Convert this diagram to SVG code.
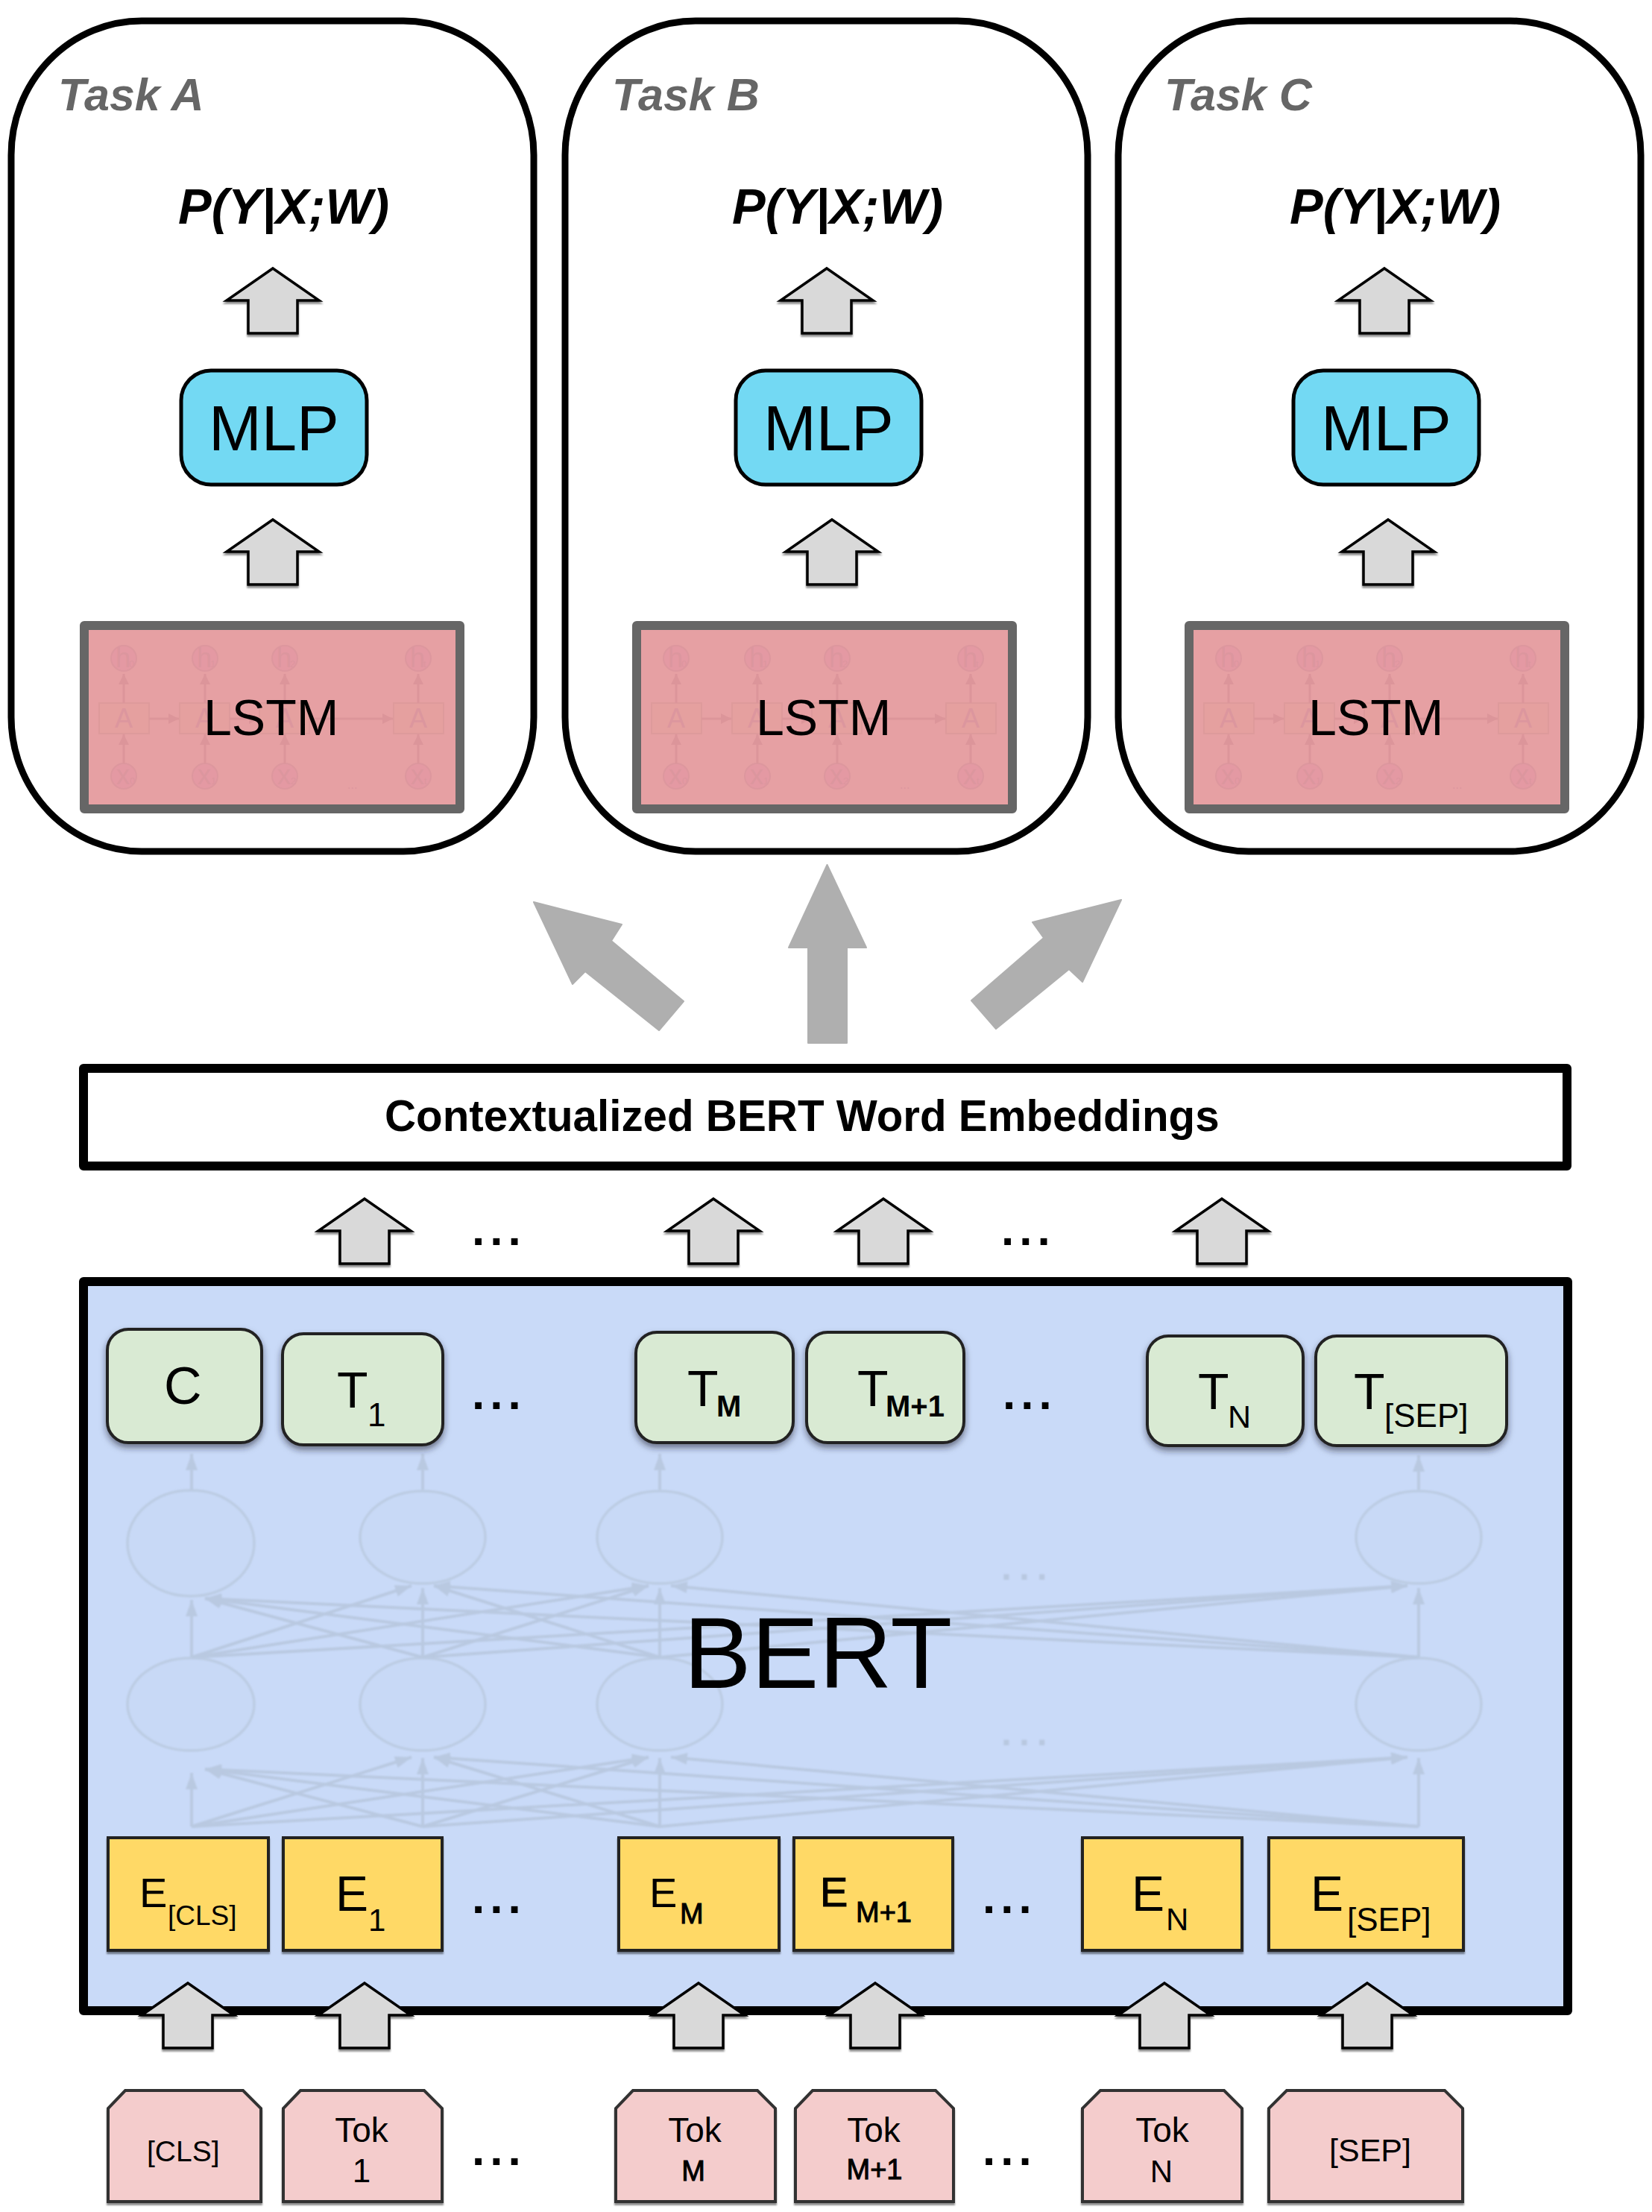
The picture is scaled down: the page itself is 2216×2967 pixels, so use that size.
<svg xmlns="http://www.w3.org/2000/svg" width="2216" height="2967" viewBox="0 0 2216 2967">
<style>
text{font-family:"Liberation Sans",Arial,sans-serif;fill:#000}
.frame{fill:#fff;stroke:#000;stroke-width:9}
.task{font-size:61px;font-weight:bold;font-style:italic;fill:#666}
.prob{font-size:67px;font-weight:bold;font-style:italic}
.mlp{fill:#73d9f3;stroke:#000;stroke-width:5}
.mlpt{font-size:85px}
.lstm{fill:#e6a0a3;stroke:#666;stroke-width:12;stroke-linejoin:round}
.lstmt{font-size:68px}
.up{fill:#d9d9d9;stroke:#000;stroke-width:3.5;filter:url(#s1)}
.big{fill:#afafaf;stroke:#afafaf;stroke-width:2;stroke-linejoin:round}
.thick{stroke:#000;stroke-width:12;stroke-linejoin:round}
.green{fill:#d9ead3;stroke:#222;stroke-width:4;filter:url(#s2)}
.yellow{fill:#ffd966;stroke:#222;stroke-width:4;filter:url(#s1)}
.pink{fill:#f4cccc;stroke:#333;stroke-width:4;filter:url(#s1)}
.dots{font-size:62px;font-weight:bold;letter-spacing:7px}
.fdots{font-size:50px;font-weight:bold;letter-spacing:10px;fill:#b8c8e0}
.net{filter:url(#b1)}
.fan{stroke:#b9c9e1;stroke-width:4;fill:none;marker-end:url(#nh)}
.ell{fill:#c8d9f6;stroke:#bccce3;stroke-width:3.5}
.lc{fill:#e499a3;stroke:#dd979e;stroke-width:2}
.lb{fill:#e5a09f;stroke:#de9a9b;stroke-width:2}
.la{stroke:#dc959a;stroke-width:3;fill:none;marker-end:url(#lh)}
.ll{font-size:36px;fill:#dc969e}
.ls{font-size:13px;fill:#dc969e}
.ld{font-size:16px;fill:#dc969e}
.b{font-weight:bold}
.m{stroke:#000;stroke-width:1}
</style>
<defs>
<filter id="s1" x="-10%" y="-10%" width="120%" height="125%"><feDropShadow dx="0" dy="3" stdDeviation="1" flood-color="#000" flood-opacity=".45"/></filter>
<filter id="s2" x="-10%" y="-10%" width="120%" height="130%"><feDropShadow dx="0" dy="5" stdDeviation="4" flood-color="#223" flood-opacity=".55"/></filter>
<filter id="b1" x="-2%" y="-2%" width="104%" height="104%"><feGaussianBlur stdDeviation="1.3"/></filter>
<marker id="nh" markerUnits="userSpaceOnUse" markerWidth="24" markerHeight="18" refX="22" refY="9" orient="auto"><path d="M0 1L22 9L0 17Z" fill="#b9c9e1"/></marker>
<marker id="lh" markerUnits="userSpaceOnUse" markerWidth="16" markerHeight="16" refX="14" refY="8" orient="auto"><path d="M0 1L14 8L0 15Z" fill="#dc959a"/></marker>
<polygon id="ua" points="0,1 62,44 33,44 33,88 -33,88 -33,44 -62,44"/>
<g id="lstmart">
<circle class="lc" cx="166" cy="883" r="17"/><circle class="lc" cx="275" cy="883" r="17"/><circle class="lc" cx="382" cy="883" r="17"/><circle class="lc" cx="561" cy="883" r="17"/>
<circle class="lc" cx="166" cy="1041" r="17"/><circle class="lc" cx="275" cy="1041" r="17"/><circle class="lc" cx="382" cy="1041" r="17"/><circle class="lc" cx="561" cy="1041" r="17"/>
<rect class="lb" x="133" y="943" width="67" height="41"/><rect class="lb" x="241" y="943" width="67" height="41"/><rect class="lb" x="348" y="943" width="67" height="41"/><rect class="lb" x="528" y="943" width="67" height="41"/>
<path class="la" d="M166 943V904"/><path class="la" d="M275 943V904"/><path class="la" d="M382 943V904"/><path class="la" d="M561 943V904"/>
<path class="la" d="M166 1024V985"/><path class="la" d="M275 1024V985"/><path class="la" d="M382 1024V985"/><path class="la" d="M561 1024V985"/>
<path class="la" d="M200 964H240"/><path class="la" d="M308 964H348"/><path class="la" d="M415 964H527"/>
</g>
</defs>

<g id="task-a">
<rect class="frame" x="15" y="28" width="701" height="1114" rx="175" ry="180"/>
<text class="task" x="78" y="148">Task A</text>
<text class="prob" x="239" y="300">P(Y|X;W)</text>
<use href="#ua" class="up" x="366" y="359"/>
<rect class="mlp" x="243" y="497" width="249" height="153" rx="40"/>
<text class="mlpt" x="280" y="604">MLP</text>
<use href="#ua" class="up" x="366" y="696"/>
<rect class="lstm" x="113" y="839" width="504" height="246"/>
<use href="#lstmart"/>
<text class="ll" x="154" y="976">A</text><text class="ll" x="262" y="976">A</text><text class="ll" x="370" y="976">A</text><text class="ll" x="549" y="976">A</text>
<text class="ll" x="155" y="895">h</text><text class="ls" x="173" y="895">0</text><text class="ll" x="264" y="895">h</text><text class="ls" x="282" y="895">1</text><text class="ll" x="371" y="895">h</text><text class="ls" x="389" y="895">2</text><text class="ll" x="550" y="895">h</text><text class="ls" x="568" y="895">t</text>
<text class="ll" x="156" y="1052">x</text><text class="ls" x="174" y="1052">0</text><text class="ll" x="265" y="1052">x</text><text class="ls" x="283" y="1052">1</text><text class="ll" x="372" y="1052">x</text><text class="ls" x="390" y="1052">2</text><text class="ll" x="551" y="1052">x</text><text class="ls" x="569" y="1052">t</text>
<text class="ld" x="466" y="1058">...</text>
<text class="lstmt" x="273" y="986">LSTM</text>
</g>

<g id="task-b">
<rect class="frame" x="758" y="28" width="701" height="1114" rx="175" ry="180"/>
<text class="task" x="821" y="148">Task B</text>
<text class="prob" x="982" y="300">P(Y|X;W)</text>
<use href="#ua" class="up" x="1109" y="359"/>
<rect class="mlp" x="987" y="497" width="249" height="153" rx="40"/>
<text class="mlpt" x="1024" y="604">MLP</text>
<use href="#ua" class="up" x="1116" y="696"/>
<rect class="lstm" x="854" y="839" width="504" height="246"/>
<use href="#lstmart" x="741"/>
<text class="ll" x="895" y="976">A</text><text class="ll" x="1003" y="976">A</text><text class="ll" x="1111" y="976">A</text><text class="ll" x="1290" y="976">A</text>
<text class="ll" x="896" y="895">h</text><text class="ls" x="914" y="895">0</text><text class="ll" x="1005" y="895">h</text><text class="ls" x="1023" y="895">1</text><text class="ll" x="1112" y="895">h</text><text class="ls" x="1130" y="895">2</text><text class="ll" x="1291" y="895">h</text><text class="ls" x="1309" y="895">t</text>
<text class="ll" x="897" y="1052">x</text><text class="ls" x="915" y="1052">0</text><text class="ll" x="1006" y="1052">x</text><text class="ls" x="1024" y="1052">1</text><text class="ll" x="1113" y="1052">x</text><text class="ls" x="1131" y="1052">2</text><text class="ll" x="1292" y="1052">x</text><text class="ls" x="1310" y="1052">t</text>
<text class="ld" x="1207" y="1058">...</text>
<text class="lstmt" x="1014" y="986">LSTM</text>
</g>

<g id="task-c">
<rect class="frame" x="1500" y="28" width="701" height="1114" rx="175" ry="180"/>
<text class="task" x="1562" y="148">Task C</text>
<text class="prob" x="1730" y="300">P(Y|X;W)</text>
<use href="#ua" class="up" x="1857" y="359"/>
<rect class="mlp" x="1735" y="497" width="249" height="153" rx="40"/>
<text class="mlpt" x="1772" y="604">MLP</text>
<use href="#ua" class="up" x="1862" y="696"/>
<rect class="lstm" x="1595" y="839" width="504" height="246"/>
<use href="#lstmart" x="1482"/>
<text class="ll" x="1636" y="976">A</text><text class="ll" x="1744" y="976">A</text><text class="ll" x="1852" y="976">A</text><text class="ll" x="2031" y="976">A</text>
<text class="ll" x="1637" y="895">h</text><text class="ls" x="1655" y="895">0</text><text class="ll" x="1746" y="895">h</text><text class="ls" x="1764" y="895">1</text><text class="ll" x="1853" y="895">h</text><text class="ls" x="1871" y="895">2</text><text class="ll" x="2032" y="895">h</text><text class="ls" x="2050" y="895">t</text>
<text class="ll" x="1638" y="1052">x</text><text class="ls" x="1656" y="1052">0</text><text class="ll" x="1747" y="1052">x</text><text class="ls" x="1765" y="1052">1</text><text class="ll" x="1854" y="1052">x</text><text class="ls" x="1872" y="1052">2</text><text class="ll" x="2033" y="1052">x</text><text class="ls" x="2051" y="1052">t</text>
<text class="ld" x="1948" y="1058">...</text>
<text class="lstmt" x="1755" y="986">LSTM</text>
</g>

<g id="connectors-big">
<polygon class="big" points="1109.5,1160 1162,1271 1136,1271 1136,1399 1084,1399 1084,1271 1058,1271"/>
<polygon class="big" points="716,1210 834,1240 820,1262 917,1343 884,1382 785,1303 768,1320"/>
<polygon class="big" points="1504,1207 1385,1237 1400,1258 1303,1342 1336,1380 1434,1300 1452,1317"/>
</g>

<g id="embeddings">
<rect class="thick" x="112" y="1433" width="1990" height="131" fill="#fff"/>
<text x="516" y="1517" font-size="58.3" font-weight="bold">Contextualized BERT Word Embeddings</text>
</g>

<g id="connectors-top">
<use href="#ua" class="up" x="489" y="1607"/>
<use href="#ua" class="up" x="957" y="1607"/>
<use href="#ua" class="up" x="1185" y="1607"/>
<use href="#ua" class="up" x="1639" y="1607"/>
</g>
<text class="dots" x="633" y="1670">...</text>
<text class="dots" x="1343" y="1670">...</text>

<g id="bert">
<rect class="thick" x="112" y="1719" width="1991" height="978" fill="#c9daf8"/>
<g id="bert-net" class="net">
<ellipse class="ell" cx="256" cy="2070" rx="85" ry="71"/><ellipse class="ell" cx="567" cy="2062" rx="84" ry="62"/><ellipse class="ell" cx="885" cy="2062" rx="84" ry="62"/><ellipse class="ell" cx="1903" cy="2062" rx="84" ry="62"/>
<ellipse class="ell" cx="256" cy="2286" rx="85" ry="62"/><ellipse class="ell" cx="567" cy="2286" rx="84" ry="62"/><ellipse class="ell" cx="885" cy="2286" rx="84" ry="62"/><ellipse class="ell" cx="1903" cy="2286" rx="84" ry="62"/>
<path class="fan" d="M257 1998V1950"/><path class="fan" d="M567 1998V1950"/><path class="fan" d="M885 1998V1950"/><path class="fan" d="M1903 1998V1952"/>
<path class="fan" d="M257 2223V2146"/><path class="fan" d="M567 2223V2130"/><path class="fan" d="M885 2223V2130"/><path class="fan" d="M1903 2223V2130"/>
<path class="fan" d="M257 2223L552 2127"/><path class="fan" d="M257 2223L870 2127"/><path class="fan" d="M257 2223L1888 2127"/>
<path class="fan" d="M567 2223L275 2144"/><path class="fan" d="M567 2223L870 2127"/><path class="fan" d="M567 2223L1888 2127"/>
<path class="fan" d="M885 2223L275 2144"/><path class="fan" d="M885 2223L582 2127"/><path class="fan" d="M885 2223L1888 2127"/>
<path class="fan" d="M1903 2223L275 2144"/><path class="fan" d="M1903 2223L582 2127"/><path class="fan" d="M1903 2223L900 2127"/>
<path class="fan" d="M257 2450V2378"/><path class="fan" d="M567 2450V2358"/><path class="fan" d="M885 2450V2358"/><path class="fan" d="M1903 2450V2358"/>
<path class="fan" d="M257 2450L552 2357"/><path class="fan" d="M257 2450L870 2357"/><path class="fan" d="M257 2450L1888 2357"/>
<path class="fan" d="M567 2450L275 2373"/><path class="fan" d="M567 2450L870 2357"/><path class="fan" d="M567 2450L1888 2357"/>
<path class="fan" d="M885 2450L275 2373"/><path class="fan" d="M885 2450L582 2357"/><path class="fan" d="M885 2450L1888 2357"/>
<path class="fan" d="M1903 2450L275 2373"/><path class="fan" d="M1903 2450L582 2357"/><path class="fan" d="M1903 2450L900 2357"/>
<text class="fdots" x="1343" y="2119">...</text>
<text class="fdots" x="1343" y="2341">...</text>
</g>
<text x="917" y="2264" font-size="136">BERT</text>
<text class="dots" x="633" y="1890">...</text>
<text class="dots" x="1345" y="1890">...</text>
<text class="dots" x="633" y="2566">...</text>
<text class="dots" x="1318" y="2566">...</text>
</g>

<g id="out-c"><rect class="green" x="144" y="1783" width="207" height="152" rx="28"/><text x="220" y="1883" font-size="70">C</text></g>
<g id="out-t1"><rect class="green" x="379" y="1789" width="215" height="149" rx="28"/><text x="452" y="1888" font-size="68">T</text><text x="493" y="1913" font-size="44">1</text></g>
<g id="out-tm"><rect class="green" x="853" y="1787" width="211" height="148" rx="28"/><text x="922" y="1886" font-size="68">T</text><text x="961" y="1900" font-size="40" class="b">M</text></g>
<g id="out-tm1"><rect class="green" x="1082" y="1787" width="211" height="148" rx="28"/><text x="1150" y="1886" font-size="68">T</text><text x="1188" y="1900" font-size="40" class="b">M+1</text></g>
<g id="out-tn"><rect class="green" x="1539" y="1792" width="209" height="147" rx="28"/><text x="1607" y="1890" font-size="68">T</text><text x="1647" y="1915" font-size="43">N</text></g>
<g id="out-tsep"><rect class="green" x="1765" y="1792" width="256" height="147" rx="28"/><text x="1816" y="1890" font-size="68">T</text><text x="1857" y="1914" font-size="44">[SEP]</text></g>

<g id="emb-cls"><rect class="yellow" x="145" y="2465" width="215" height="151"/><text x="187" y="2558" font-size="56">E</text><text x="225" y="2582" font-size="37">[CLS]</text></g>
<g id="emb-1"><rect class="yellow" x="380" y="2465" width="213" height="151"/><text x="450" y="2563" font-size="66">E</text><text x="494" y="2590" font-size="42">1</text></g>
<g id="emb-m"><rect class="yellow" x="830" y="2465" width="215" height="151"/><text x="871" y="2558" font-size="56">E</text><text x="912" y="2580" font-size="38" class="m">M</text></g>
<g id="emb-m1"><rect class="yellow" x="1065" y="2465" width="213" height="151"/><text x="1100" y="2557" font-size="56" class="m">E</text><text x="1148" y="2578" font-size="38" class="m">M+1</text></g>
<g id="emb-n"><rect class="yellow" x="1452" y="2465" width="214" height="151"/><text x="1518" y="2563" font-size="66">E</text><text x="1564" y="2589" font-size="42">N</text></g>
<g id="emb-sep"><rect class="yellow" x="1702" y="2465" width="261" height="151"/><text x="1758" y="2563" font-size="66">E</text><text x="1807" y="2590" font-size="44">[SEP]</text></g>

<g id="connectors-bottom">
<use href="#ua" class="up" x="252" y="2659"/>
<use href="#ua" class="up" x="489" y="2659"/>
<use href="#ua" class="up" x="937" y="2659"/>
<use href="#ua" class="up" x="1174" y="2659"/>
<use href="#ua" class="up" x="1562" y="2659"/>
<use href="#ua" class="up" x="1834" y="2659"/>
</g>

<g id="tok-cls"><polygon class="pink" points="168,2804 326,2804 350,2828 350,2953 145,2953 145,2828"/><text x="197" y="2899" font-size="39">[CLS]</text></g>
<g id="tok-1"><polygon class="pink" points="403,2804 569,2804 593,2828 593,2953 380,2953 380,2828"/><text x="485" y="2873" font-size="46" text-anchor="middle">Tok</text><text x="485" y="2927" font-size="44" text-anchor="middle">1</text></g>
<g id="tok-m"><polygon class="pink" points="849,2804 1016,2804 1040,2828 1040,2953 826,2953 826,2828"/><text x="932" y="2873" font-size="46" text-anchor="middle">Tok</text><text x="930" y="2925" font-size="38" text-anchor="middle" class="m">M</text></g>
<g id="tok-m1"><polygon class="pink" points="1090,2804 1255,2804 1279,2828 1279,2953 1067,2953 1067,2828"/><text x="1172" y="2873" font-size="46" text-anchor="middle">Tok</text><text x="1173" y="2923" font-size="38" text-anchor="middle" class="m">M+1</text></g>
<g id="tok-n"><polygon class="pink" points="1476,2804 1642,2804 1666,2828 1666,2953 1452,2953 1452,2828"/><text x="1559" y="2873" font-size="46" text-anchor="middle">Tok</text><text x="1558" y="2927" font-size="42" text-anchor="middle">N</text></g>
<g id="tok-sep"><polygon class="pink" points="1726,2804 1938,2804 1962,2828 1962,2953 1702,2953 1702,2828"/><text x="1838" y="2899" font-size="43" text-anchor="middle">[SEP]</text></g>
<text class="dots" x="633" y="2904">...</text>
<text class="dots" x="1318" y="2904">...</text>
</svg>
